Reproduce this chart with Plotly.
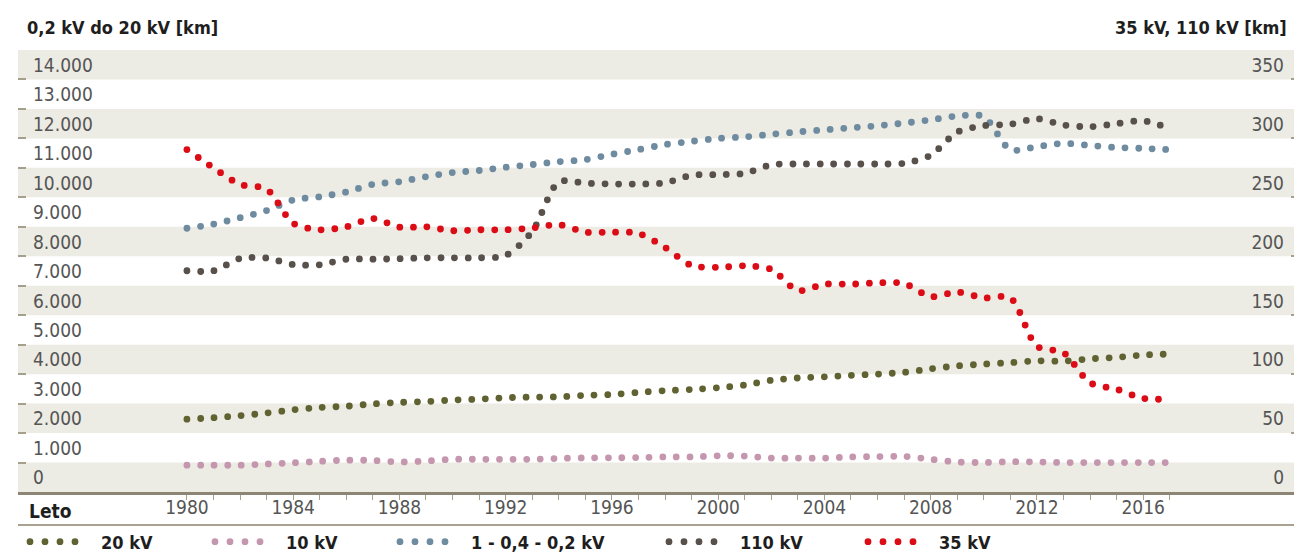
import plotly.graph_objects as go

years = list(range(1980, 2018))

# left axis [km]
kv20 = [2470, 2520, 2590, 2680, 2790, 2870, 2910, 2990, 3040, 3070, 3120, 3150,
        3200, 3220, 3230, 3280, 3310, 3380, 3440, 3480, 3540, 3630, 3790, 3870,
        3910, 3960, 4000, 4060, 4180, 4280, 4340, 4390, 4450, 4440, 4520, 4570,
        4650, 4680]
kv10 = [910, 910, 910, 950, 990, 1040, 1080, 1070, 1020, 1050, 1110, 1110,
        1110, 1110, 1140, 1160, 1160, 1170, 1190, 1190, 1230, 1220, 1150, 1150,
        1150, 1190, 1200, 1210, 1110, 1020, 1000, 1030, 1020, 1000, 1000, 1000,
        1000, 1000]
kv_low = [8950, 9090, 9310, 9550, 9910, 10020, 10180, 10440, 10530, 10700,
          10840, 10910, 11020, 11110, 11210, 11280, 11460, 11620, 11790, 11900,
          12000, 12050, 12140, 12220, 12290, 12360, 12430, 12520, 12630, 12760,
          12740, 11620, 11720, 11830, 11760, 11690, 11660, 11620]
# right axis [km]
kv110 = [187.7, 187.7, 198.1, 198.5, 193.0, 192.8, 197.5, 197.5, 197.9, 198.7,
         198.7, 198.7, 200.7, 221.0, 263.0, 262.0, 261.3, 261.3, 262.3, 268.7,
         269.3, 270.4, 277.6, 278.3, 278.3, 278.3, 278.3, 278.9, 285.7, 305.3,
         310.8, 312.0, 316.7, 311.4, 309.9, 312.5, 315.0, 308.4]
kv35 = [290.5, 275.0, 261.0, 257.0, 228.0, 222.5, 225.0, 232.0, 224.7, 225.0,
        221.7, 222.5, 222.5, 224.0, 226.8, 220.5, 220.5, 219.4, 207.5, 192.2,
        190.6, 191.9, 188.9, 170.9, 176.3, 176.3, 177.5, 176.9, 165.8, 169.6,
        164.7, 164.7, 123.7, 118.2, 92.7, 87.2, 79.5, 78.8]

left_ticks = list(range(0, 15000, 1000))
right_ticks = list(range(0, 375, 50))
year_labels = [str(y) if (y - 1980) % 4 == 0 else "" for y in years]

FONT = "DejaVu Sans Condensed, Liberation Sans Narrow, sans-serif"
BAND = "#ecebe4"
TICK_C = "#a59f8b"
LABEL_C = "#555555"
DARK = "#1e1e1e"
W, H = 1294, 553
PL, PT, PB = 18, 50, 61
PW, PH = W - PL, H - PT - PB


def px_x(p):
    return (p - PL) / PW


def px_y(p):
    return (H - PB - p) / PH


series = [
    ("20 kV", kv20, "y", "#616232"),
    ("10 kV", kv10, "y", "#c497ae"),
    ("1 - 0,4 - 0,2 kV", kv_low, "y", "#6e8ba0"),
    ("110 kV", kv110, "y2", "#58504a"),
    ("35 kV", kv35, "y2", "#dc0c16"),
]
legend_x = [30, 215, 400, 669, 868]  # first legend dot, px

fig = go.Figure()
for name, vals, yax, color in series:
    fig.add_trace(go.Scatter(
        x=years, y=vals, yaxis=yax, name=name, mode="lines", showlegend=False,
        line=dict(color=color, width=6.8, dash="0px,13.6px", shape="spline", smoothing=0.8),
    ))

for i, (name, vals, yax, color) in enumerate(series):
    key = "legend" if i == 0 else f"legend{i + 1}"
    fig.add_trace(go.Scatter(
        x=[None], y=[None], yaxis=yax, name=name, mode="lines", legend=key,
        line=dict(color=color, width=6.8, dash="0px,15px,0px,15px,0px,15px,0px,200px"),
    ))
    fig.update_layout({key: dict(
        orientation="h", xref="container", yref="container",
        x=(legend_x[i] - 5) / W, xanchor="left",
        y=(H - 542) / H, yanchor="middle", itemwidth=66, bgcolor="rgba(0,0,0,0)",
        font=dict(family=FONT, size=18, color=DARK, weight="bold"),
    )})

for v in range(0, 15000, 2000):
    fig.add_shape(type="rect", xref="paper", yref="y", x0=0, x1=1, y0=v, y1=v + 1000,
                  fillcolor=BAND, line_width=0, layer="below")
fig.add_shape(type="line", xref="paper", yref="paper", x0=0, x1=1,
              y0=px_y(525), y1=px_y(525), line=dict(color="#a8a290", width=2))

fig.add_annotation(text="<b>0,2 kV do 20 kV [km]</b>", xref="paper", yref="paper",
                   x=px_x(25), y=px_y(28), xanchor="left", yanchor="middle",
                   showarrow=False, font=dict(family=FONT, size=18, color=DARK))
fig.add_annotation(text="<b>35 kV, 110 kV [km]</b>", xref="paper", yref="paper",
                   x=px_x(1289), y=px_y(28), xanchor="right", yanchor="middle",
                   showarrow=False, font=dict(family=FONT, size=18, color=DARK))
fig.add_annotation(text="<b>Leto</b>", xref="paper", yref="paper",
                   x=px_x(27), y=px_y(511), xanchor="left", yanchor="middle",
                   showarrow=False, font=dict(family=FONT, size=19, color=DARK))

fig.update_layout(
    width=W, height=H,
    margin=dict(l=PL, r=0, t=PT, b=PB),
    paper_bgcolor="white", plot_bgcolor="white",
    separators=",.",
    font=dict(family=FONT, size=19, color=LABEL_C),
    xaxis=dict(
        range=[1973.64, 2021.68], tickvals=years, ticktext=year_labels,
        ticks="outside", ticklen=5, tickcolor=TICK_C, tickwidth=1,
        showline=True, linecolor="#8c8674", linewidth=3, showgrid=False, zeroline=False,
        ticklabelstandoff=-9, automargin=False,
        tickfont=dict(family=FONT, size=19, color=LABEL_C),
    ),
    yaxis=dict(
        range=[0, 15000], tickvals=left_ticks, tickformat=",d",
        ticks="inside", ticklen=8, tickwidth=2, tickcolor=TICK_C,
        ticklabelposition="inside top", ticklabelstandoff=12, automargin=False,
        showgrid=False, zeroline=False,
        tickfont=dict(family=FONT, size=19, color=LABEL_C),
    ),
    yaxis2=dict(
        range=[0, 375], tickvals=right_ticks, overlaying="y", side="right",
        ticks="inside", ticklen=3, tickwidth=2, tickcolor=TICK_C,
        ticklabelposition="inside top", ticklabelstandoff=7, automargin=False,
        showgrid=False, zeroline=False,
        tickfont=dict(family=FONT, size=19, color=LABEL_C),
    ),
)

PAGE_FIX = """
document.body.style.margin = '0';
var s = document.createElement('style');
s.textContent = '.js-line { stroke-linecap: round; }';
document.head.appendChild(s);
"""

fig.write_html("out.html", post_script=PAGE_FIX, config={"displayModeBar": False})
